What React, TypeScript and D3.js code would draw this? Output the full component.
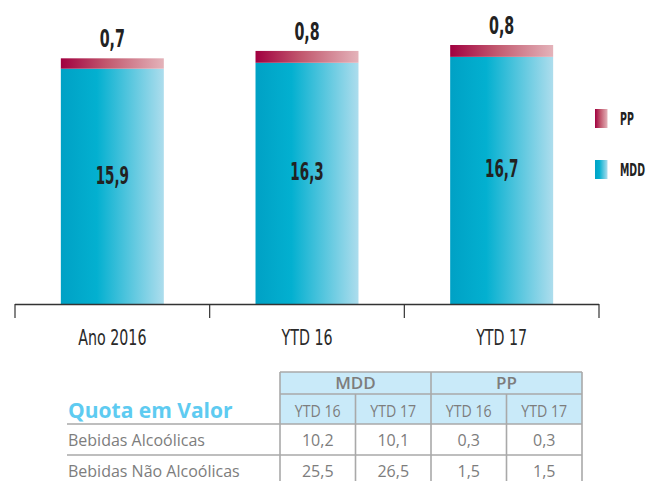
import React from 'react';
import * as d3 from 'd3';

const categories = ['Ano 2016', 'YTD 16', 'YTD 17'];
const mddValues = [15.9, 16.3, 16.7];
const ppValues = [0.7, 0.8, 0.8];
const legendLabels = ['PP', 'MDD'];
const tableTitle = 'Quota em Valor';
const tableGroups = ['MDD', 'PP'];
const tablePeriods = ['YTD 16', 'YTD 17', 'YTD 16', 'YTD 17'];
const tableRowLabels = ['Bebidas Alcoólicas', 'Bebidas Não Alcoólicas'];
const tableRow1 = [10.2, 10.1, 0.3, 0.3];
const tableRow2 = [25.5, 26.5, 1.5, 1.5];

const fmt = (v: number) => v.toFixed(1).replace('.', ',');

const NARROW = "'Liberation Sans Narrow', 'DejaVu Sans Condensed', 'Roboto Condensed', sans-serif";
const TABLE_FONT = "'Open Sans', sans-serif";
const GRID = '#a9a9a9';
const TXT_GRAY = '#7d7d7d';

function Narrow({ x, y, size, weight, sx, children, fill = '#222', anchor = 'middle' }: any) {
  return (
    <text
      transform={`translate(${x},${y}) scale(${sx},1)`}
      textAnchor={anchor}
      fontFamily={NARROW}
      fontSize={size}
      fontWeight={weight}
      fill={fill}
    >
      {children}
    </text>
  );
}

export default function App() {
  const W = 651;
  const H = 481;
  const axisY = 304;
  const x = d3.scaleBand<string>().domain(categories).range([15, 599]).paddingInner(0.471).paddingOuter(0.2355);
  const y = d3.scaleLinear().domain([0, 20]).range([axisY, axisY - 20 * 14.8]);
  const step = x.step();
  const tickXs = d3.range(categories.length + 1).map((i) => 15 + i * step);

  const tableLeft = 280;
  const tableRight = 582;
  const cols = d3.scaleBand<number>().domain(d3.range(tablePeriods.length)).range([tableLeft, tableRight]);
  const rowLabelX = 68;
  const hTop = 372, h1 = 394, h2 = 424, r1 = 455, r2 = 486;
  const rows = [tableRow1, tableRow2];
  const rowTops = [h2, r1];

  return (
    <svg width={W} height={H} style={{ position: 'absolute', left: 0, top: 0, background: '#fff' }}>
      <defs>
        <linearGradient id="gMDD" x1="0" x2="1" y1="0" y2="0">
          <stop offset="0%" stopColor="#00a1c5" />
          <stop offset="35%" stopColor="#03b0d0" />
          <stop offset="100%" stopColor="#addded" />
        </linearGradient>
        <linearGradient id="gPP" x1="0" x2="1" y1="0" y2="0">
          <stop offset="0%" stopColor="#a10040" />
          <stop offset="45%" stopColor="#c2596f" />
          <stop offset="100%" stopColor="#e4b3ba" />
        </linearGradient>
      </defs>

      {/* bars */}
      {categories.map((c, i) => {
        const bx = x(c)!;
        const bw = x.bandwidth();
        const mddTop = y(mddValues[i]);
        const ppTop = y(mddValues[i] + ppValues[i]);
        const cx = bx + bw / 2;
        return (
          <g key={c}>
            <rect x={bx} y={mddTop} width={bw} height={axisY - mddTop} fill="url(#gMDD)" />
            <rect x={bx} y={ppTop} width={bw} height={mddTop - ppTop} fill="url(#gPP)" />
            <Narrow x={cx} y={ppTop - 11} size={24} weight="bold" sx={0.66}>
              {fmt(ppValues[i])}
            </Narrow>
            <Narrow x={cx} y={y(mddValues[i] * 0.55) + 9} size={25} weight="bold" sx={0.6}>
              {fmt(mddValues[i])}
            </Narrow>
          </g>
        );
      })}

      {/* axis */}
      <line x1={tickXs[0]} x2={tickXs[tickXs.length - 1]} y1={axisY + 0.5} y2={axisY + 0.5} stroke="#333" strokeWidth={1.3} />
      {tickXs.map((tx, i) => (
        <line key={i} x1={tx} x2={tx} y1={axisY} y2={axisY + 14} stroke="#333" strokeWidth={1.2} />
      ))}
      {categories.map((c) => (
        <Narrow key={c} x={x(c)! + x.bandwidth() / 2} y={345} size={22} weight="normal" sx={0.72} fill="#2a2a2a">
          {c}
        </Narrow>
      ))}

      {/* legend */}
      {legendLabels.map((l, i) => {
        const ly = 109 + i * 51;
        return (
          <g key={l}>
            <rect x={595} y={ly} width={12.5} height={19} fill={l === 'PP' ? 'url(#gPP)' : 'url(#gMDD)'} />
            <Narrow x={620} y={ly + 16} size={18} weight="bold" sx={0.58} anchor="start" fill="#222">
              {l}
            </Narrow>
          </g>
        );
      })}

      {/* table */}
      <rect x={tableLeft} y={hTop} width={tableRight - tableLeft} height={h2 - hTop} fill="#c9eaf9" />
      <text x={rowLabelX} y={418} fontFamily={TABLE_FONT} fontWeight="bold" fontSize={21} fill="#5ecbf1">
        {tableTitle}
      </text>
      {tableGroups.map((g, gi) => {
        const gx0 = cols(gi * 2)!;
        const gx1 = cols(gi * 2 + 1)! + cols.bandwidth();
        return (
          <text key={g + gi} x={(gx0 + gx1) / 2} y={389} textAnchor="middle" fontFamily={TABLE_FONT} fontWeight="600" fontSize={17} fill={TXT_GRAY}>
            {g}
          </text>
        );
      })}
      {tablePeriods.map((p, i) => (
        <text key={i} transform={`translate(${cols(i)! + cols.bandwidth() / 2},417) scale(0.86,1)`} textAnchor="middle" fontFamily={TABLE_FONT} fontSize={16.5} fill={TXT_GRAY}>
          {p}
        </text>
      ))}
      {rows.map((r, ri) => (
        <g key={ri}>
          <text x={rowLabelX} y={rowTops[ri] + 22} fontFamily={TABLE_FONT} fontSize={16} fill={TXT_GRAY}>
            {tableRowLabels[ri]}
          </text>
          {r.map((v, ci) => (
            <text key={ci} x={cols(ci)! + cols.bandwidth() / 2} y={rowTops[ri] + 22} textAnchor="middle" fontFamily={TABLE_FONT} fontSize={16} fill={TXT_GRAY}>
              {fmt(v)}
            </text>
          ))}
        </g>
      ))}
      {/* grid lines */}
      <g stroke={GRID} strokeWidth={1.6} fill="none">
        <line x1={tableLeft} x2={tableRight} y1={hTop} y2={hTop} />
        <line x1={tableLeft} x2={tableRight} y1={h1} y2={h1} />
        <line x1={rowLabelX - 1} x2={tableRight} y1={h2} y2={h2} />
        <line x1={rowLabelX - 1} x2={tableRight} y1={r1} y2={r1} />
        {[0, 2, 4].map((i) => {
          const lx = i < 4 ? cols(i)! : tableRight;
          return <line key={'v' + i} x1={lx} x2={lx} y1={hTop} y2={H} />;
        })}
        {[1, 3].map((i) => (
          <line key={'s' + i} x1={cols(i)!} x2={cols(i)!} y1={h1} y2={H} />
        ))}
      </g>
    </svg>
  );
}
